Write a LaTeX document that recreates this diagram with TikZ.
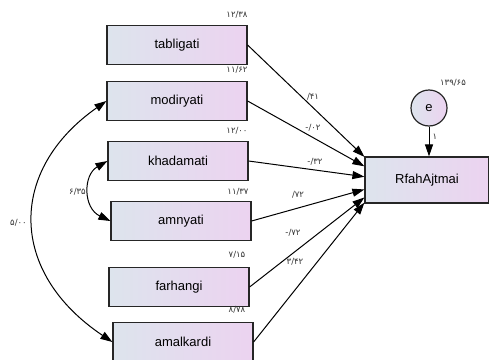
\documentclass[tikz,border=0pt]{standalone}
\usepackage{fontspec}
\setmainfont{Liberation Sans}
\newfontfamily\fanum{DejaVu Sans}
\usetikzlibrary{arrows.meta,calc}
\definecolor{boxl}{RGB}{221,228,237}
\definecolor{boxr}{RGB}{236,211,240}

\begin{document}
\begin{tikzpicture}[x=1pt,y=-1pt,
  var/.style={draw=black!85,line width=1.2pt,minimum width=140pt,minimum height=39pt,
    inner sep=0pt,left color=boxl,right color=boxr,font=\fontsize{13}{15}\selectfont},
  num/.style={inner sep=0pt,text=black!80,font=\fanum\fontsize{8.5}{10}\selectfont},
  reg/.style={-{Triangle[length=12pt,width=8pt]},line width=1pt},
  cov/.style={{Triangle[length=12pt,width=8pt]}-{Triangle[length=12pt,width=8pt]},line width=1pt}]
  \useasboundingbox[fill=white] (0,0) rectangle (489,359);
  % observed variables
  \node[var] (tab) at (177,45) {tabligati};
  \node[var] (mod) at (177,101) {modiryati};
  \node[var] (kha) at (178,161) {khadamati};
  \node[var] (amn) at (181,221) {amnyati};
  \node[var] (far) at (179,287) {farhangi};
  \node[var] (ama) at (183,342) {amalkardi};
  \node[var,minimum width=124pt,minimum height=46pt] (rfah) at (427,180) {RfahAjtmai};
  \node[var,circle,minimum width=36pt,minimum height=36pt] (e) at (429,108) {e};
  % variances
  \node[num] (vtab) at (237,15) {۱۲/۳۸};
  \node[num] (vmod) at (237,70) {۱۱/۶۲};
  \node[num] (vkha) at (237,131) {۱۲/۰۰};
  \node[num] (vamn) at (238,192) {۱۱/۳۷};
  \node[num] (vfar) at (237,255) {۷/۱۵};
  \node[num] (vama) at (237,310) {۸/۷۸};
  \node[num] (ve) at (453,83) {۱۳۹/۶۵};
  % regression paths
  \draw[reg] (tab.east) -- ($(rfah.north west)!0.01!(rfah.south west)$);
  \draw[reg] (mod.east) -- ($(rfah.north west)!0.21!(rfah.south west)$);
  \draw[reg] (kha.east) -- ($(rfah.north west)!0.43!(rfah.south west)$);
  \draw[reg] (amn.east) -- ($(rfah.north west)!0.7!(rfah.south west)$);
  \draw[reg] (far.east) -- ($(rfah.north west)!0.87!(rfah.south west)$);
  \draw[reg] (ama.east) -- ($(rfah.north west)!0.98!(rfah.south west)$);
  \draw[reg] (e) -- (e |- rfah.north) node[num,pos=0.35,right=3pt] (we) {۱};
  \node[num] (wtab) at (313,97) {/۴۱};
  \node[num] (wmod) at (313,128) {-/۰۲};
  \node[num] (wkha) at (315,162) {-/۳۲};
  \node[num] (wamn) at (298,195) {/۷۲};
  \node[num] (wfar) at (293,233) {-/۷۲};
  \node[num] (wama) at (295,262) {۳/۴۲};
  % covariances
  \draw[cov] (mod.west) .. controls (8,170) and (8,272) .. (ama.west);
  \draw[cov] (kha.west) .. controls (83,175) and (83,208) .. (amn.west);
  \node[num,anchor=east] (cma) at (27,223) {۵/۰۰};
  \node[num,anchor=east] (cka) at (86,192) {۶/۳۵};
\end{tikzpicture}
\end{document}
